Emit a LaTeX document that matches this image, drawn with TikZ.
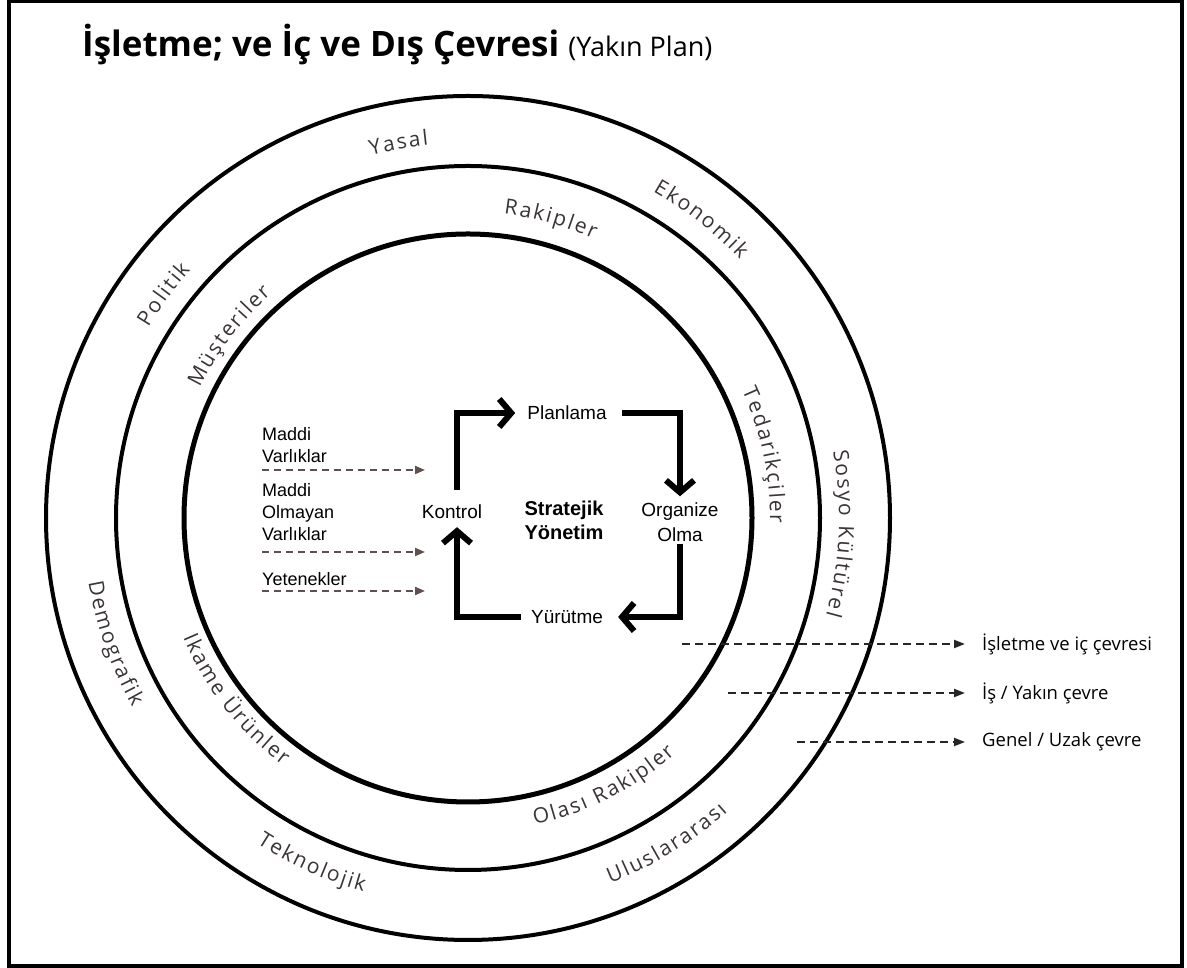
\documentclass[tikz,border=0pt]{standalone}
\usepackage{fontspec}
\setmainfont{Open Sans}
\newfontfamily\arialfont{Liberation Sans}
\newfontfamily\ringfont{Open Sans}
\usetikzlibrary{arrows.meta,decorations.text}
\definecolor{ringtext}{RGB}{58,52,52}
\definecolor{dashbrown}{RGB}{95,80,80}

% tracking between the letters of a ring label, and the gap between its words
\newcommand\lsp{\kern2pt}
\newcommand\wsp{\kern9pt}
% ring label read clockwise (letter tops outward): centre angle, baseline radius, text
\newcommand\ringcw[3]{%
  \path[decorate,decoration={text along path,text align=center,
    text={|\ringfont\fontsize{21}{21}\selectfont\color{ringtext}|#3}}]
    (C) ++({#1+70}:#2) arc[start angle={#1+70}, end angle={#1-70}, radius=#2];}
% ring label read counter-clockwise (letter tops inward)
\newcommand\ringccw[3]{%
  \path[decorate,decoration={text along path,text align=center,
    text={|\ringfont\fontsize{21}{21}\selectfont\color{ringtext}|#3}}]
    (C) ++({#1-70}:#2) arc[start angle={#1-70}, end angle={#1+70}, radius=#2];}

\begin{document}
\begin{tikzpicture}[x=1pt,y=1pt,
  bigarrow/.style={line width=6pt,-{Straight Barb[length=12pt,width=28pt]},line join=miter},
  inarrow/.style={draw=dashbrown,line width=2pt,dash pattern=on 7pt off 5pt,-{Triangle[length=10pt,width=8pt]}},
  legarrow/.style={draw=black!85,line width=2pt,dash pattern=on 8pt off 5pt,-{Triangle[length=11pt,width=8pt]}},
  cnode/.style={font=\arialfont\fontsize{19}{25}\selectfont,inner sep=0pt,align=center},
  innode/.style={font=\arialfont\fontsize{18}{22}\selectfont,inner sep=0pt,align=left,anchor=west},
  legnode/.style={font=\fontsize{18.5}{22}\selectfont,inner sep=0pt,anchor=west},
]
\useasboundingbox (0,0) rectangle (1187,968);
\draw[line width=4pt] (8.8,2) rectangle (1182,966.5);

\node[anchor=base west,inner sep=0pt] (title) at (82,911)
  {\fontsize{35}{38}\selectfont\textbf{İşletme; ve İç ve Dış Çevresi} \fontsize{27}{30}\selectfont(Yakın Plan)};

% the three environment rings
\coordinate (C) at (468,450);
\draw[line width=4pt] (C) circle[radius=422];
\draw[line width=4pt] (C) circle[radius=352];
\draw[line width=5pt] (C) circle[radius=284];

% general / far environment
\ringcw{100.5}{375}{{Y\lsp}{a\lsp}{s\lsp}{a\lsp}{l}}
\ringcw{52}{375}{{E\lsp}{k\lsp}{o\lsp}{n\lsp}{o\lsp}{m\lsp}{i\lsp}{k}}
\ringcw{143.7}{372}{{P\lsp}{o\lsp}{l\lsp}{i\lsp}{t\lsp}{i\lsp}{k}}
\ringcw{-2.4}{371}{{S\lsp}{o\lsp}{s\lsp}{y\lsp}{o\wsp}{K\lsp}{ü\lsp}{l\lsp}{t\lsp}{ü\lsp}{r\lsp}{e\lsp}{l}}
\ringccw{199.5}{385}{{D\lsp}{e\lsp}{m\lsp}{o\lsp}{g\lsp}{r\lsp}{a\lsp}{f\lsp}{i\lsp}{k}}
\ringccw{245.7}{388}{{T\lsp}{e\lsp}{k\lsp}{n\lsp}{o\lsp}{l\lsp}{o\lsp}{j\lsp}{i\lsp}{k}}
\ringccw{301.4}{392}{{U\lsp}{l\lsp}{u\lsp}{s\lsp}{l\lsp}{a\lsp}{r\lsp}{a\lsp}{r\lsp}{a\lsp}{s\lsp}{ı}}
% task / near environment
\ringcw{74.5}{306}{{R\lsp}{a\lsp}{k\lsp}{i\lsp}{p\lsp}{l\lsp}{e\lsp}{r}}
\ringcw{142.7}{298}{{M\lsp}{ü\lsp}{ş\lsp}{t\lsp}{e\lsp}{r\lsp}{i\lsp}{l\lsp}{e\lsp}{r}}
\ringcw{12}{302}{{T\lsp}{e\lsp}{d\lsp}{a\lsp}{r\lsp}{i\lsp}{k\lsp}{ç\lsp}{i\lsp}{l\lsp}{e\lsp}{r}}
\ringccw{218}{309}{{I\lsp}{k\lsp}{a\lsp}{m\lsp}{e\wsp}{Ü\lsp}{r\lsp}{ü\lsp}{n\lsp}{l\lsp}{e\lsp}{r}}
\ringccw{296.8}{314}{{O\lsp}{l\lsp}{a\lsp}{s\lsp}{ı\wsp}{R\lsp}{a\lsp}{k\lsp}{i\lsp}{p\lsp}{l\lsp}{e\lsp}{r}}

% strategic management cycle
\node[cnode] (plan) at (567,555) {Planlama};
\node[cnode] (kont) at (452,456) {Kontrol};
\node[cnode,font=\arialfont\bfseries\fontsize{20}{24}\selectfont] (sy) at (564,448) {Stratejik\\Yönetim};
\node[cnode] (org) at (680,446) {Organize\\Olma};
\node[cnode] (yur) at (567,351) {Yürütme};

\draw[bigarrow,shorten <=15pt,shorten >=12pt] ([xshift=5pt]kont.north) |- (plan.west);
\draw[bigarrow,shorten <=15pt,shorten >=6pt] (plan.east) -| (org.north);
\draw[bigarrow,shorten <=2pt,shorten >=15pt] (org.south) |- (yur.east);
\draw[bigarrow,shorten <=10pt,shorten >=8pt] (yur.west) -| ([xshift=5pt]kont.south);

% resources feeding the cycle
\node[innode] (mv) at (262,523) {Maddi\\Varlıklar};
\node[innode] (mov) at (262,456) {Maddi\\Olmayan\\Varlıklar};
\node[innode] (yet) at (262,389) {Yetenekler};
\coordinate (mvt) at (425,498);
\coordinate (movt) at (425,416);
\coordinate (yett) at (425,377);
\draw[inarrow] (mv.west |- mvt) -- (mvt);
\draw[inarrow] (mov.west |- movt) -- (movt);
\draw[inarrow] (yet.west |- yett) -- (yett);

% legend
\node[legnode] (l1) at (982,324) {İşletme ve iç çevresi};
\node[legnode] (l2) at (982,275) {İş / Yakın çevre};
\node[legnode] (l3) at (982,226) {Genel / Uzak çevre};
\coordinate (l1s) at (682,324);
\coordinate (l2s) at (728,275);
\coordinate (l3s) at (797,226);
\draw[legarrow,shorten >=17pt] (l1s) -- (l1);
\draw[legarrow,shorten >=17pt] (l2s) -- (l2);
\draw[legarrow,shorten >=17pt] (l3s) -- (l3);
\end{tikzpicture}
\end{document}
